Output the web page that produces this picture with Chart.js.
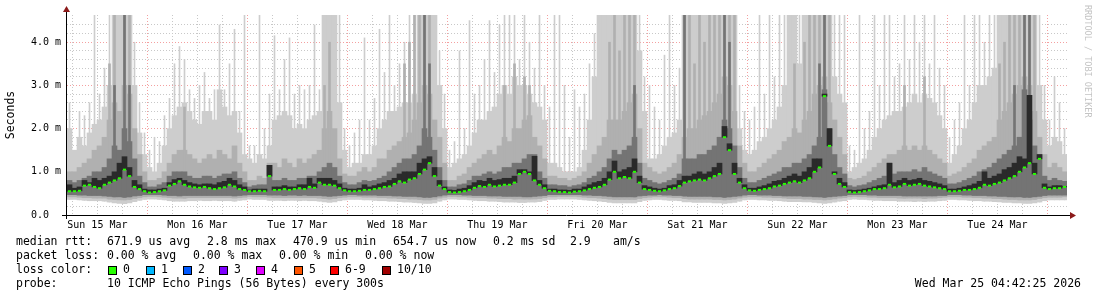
<!DOCTYPE html>
<html>
<head>
<meta charset="utf-8">
<script src="https://cdn.jsdelivr.net/npm/chart.js@4.4.1/dist/chart.umd.min.js"></script>
<style>
  html, body { margin: 0; padding: 0; background: #fff; }
  canvas { display: block; }
</style>
</head>
<body>
<canvas id="chart" width="1097" height="297"></canvas>
<script>
// 200 columns of 72 min = 10 days (Mar 15 04:42 -> Mar 25 04:42), values in ms
const binHours = 1.2;
const firstGridHour = 1.293;   // Mar 15 06:00
const dayLabels = ['Sun 15 Mar', 'Mon 16 Mar', 'Tue 17 Mar', 'Wed 18 Mar', 'Thu 19 Mar',
                   'Fri 20 Mar', 'Sat 21 Mar', 'Sun 22 Mar', 'Mon 23 Mar', 'Tue 24 Mar'];
const yTicks = [0, 1, 2, 3, 4];

// median rtt
const median = [
  0.55,0.55,0.56,0.68,0.7,0.65,0.62,0.7,0.75,0.8,0.85,1.05,0.9,0.65,0.6,0.55,
  0.52,0.53,0.55,0.57,0.68,0.72,0.78,0.7,0.66,0.64,0.63,0.65,0.62,0.6,0.62,0.64,0.7,0.66,0.6,0.58,
  0.55,0.55,0.56,0.55,0.9,0.58,0.58,0.6,0.58,0.6,0.62,0.6,0.65,0.63,0.75,0.7,0.7,0.68,0.62,0.57,
  0.55,0.55,0.56,0.58,0.58,0.6,0.62,0.65,0.66,0.72,0.78,0.75,0.82,0.85,0.95,1.05,1.2,0.9,0.68,0.6,
  0.53,0.52,0.53,0.55,0.58,0.63,0.67,0.65,0.7,0.66,0.68,0.7,0.7,0.75,0.95,1.0,0.95,0.8,0.7,0.62,
  0.56,0.55,0.53,0.53,0.52,0.54,0.55,0.57,0.6,0.63,0.65,0.7,0.82,1.0,0.85,0.88,0.85,1.0,0.75,0.6,
  0.58,0.56,0.55,0.57,0.6,0.62,0.67,0.75,0.78,0.8,0.82,0.8,0.85,0.9,0.95,1.8,1.5,0.95,0.75,0.62,
  0.57,0.56,0.58,0.6,0.62,0.66,0.68,0.72,0.75,0.78,0.75,0.8,0.85,1.0,1.1,2.75,1.6,0.95,0.72,0.65,
  0.53,0.52,0.53,0.55,0.57,0.6,0.6,0.62,0.7,0.64,0.66,0.72,0.68,0.7,0.72,0.68,0.66,0.64,0.62,0.6,
  0.55,0.55,0.56,0.58,0.58,0.6,0.63,0.7,0.68,0.72,0.75,0.8,0.85,0.9,1.0,1.1,1.2,0.95,1.3,0.63,0.6,0.62,0.62,0.65
];

// light smoke (outer pings): body top and thin spikes
const smokeTop = [
  2.0,1.5,1.8,1.6,1.9,2.1,2.2,2.5,3.0,4.63,4.63,4.63,4.63,3.0,1.9,1.4,
  1.1,1.0,1.2,1.6,2.0,2.3,2.5,2.6,2.4,2.2,2.1,2.4,2.4,2.2,2.9,2.5,2.3,2.4,1.9,1.4,
  1.3,1.2,1.4,1.3,1.6,2.2,2.3,2.4,2.3,2.0,2.1,2.0,2.2,2.3,2.4,4.63,4.63,4.63,2.6,1.5,
  1.1,1.2,1.2,1.4,1.4,1.6,2.0,2.2,2.4,2.4,2.5,2.6,2.6,2.8,4.63,4.63,4.63,4.63,3.0,2.0,
  1.1,1.2,1.3,1.4,1.6,1.9,2.2,2.2,2.4,2.5,2.8,3.0,2.8,3.2,3.0,3.0,2.8,2.6,2.5,2.2,
  1.2,1.2,1.1,1.0,1.0,1.0,1.1,1.5,2.2,3.2,4.63,4.63,4.63,4.63,4.63,4.63,4.63,4.63,3.8,2.4,
  1.3,1.3,1.4,1.6,1.8,1.9,2.2,4.63,4.63,4.63,4.63,4.63,4.63,4.63,4.63,4.63,4.63,4.63,2.0,1.5,
  1.4,1.5,1.7,1.8,2.0,2.2,2.5,3.0,4.63,4.63,3.5,4.63,4.63,4.63,4.63,4.63,4.63,3.2,2.8,2.6,
  1.0,1.1,1.2,1.3,1.5,1.8,2.0,2.2,2.3,2.4,2.4,2.5,2.6,2.8,2.6,2.8,2.7,2.6,2.3,2.0,
  1.2,1.4,1.6,2.0,2.2,2.6,3.0,3.0,3.2,3.4,4.63,4.63,4.63,4.63,4.63,4.63,4.63,4.63,3.0,2.2,1.6,1.8,1.7,1.4
];
const smokeSpike = [
  2.6,null,2.4,2.3,2.6,4.63,2.8,3.4,4.63,null,null,null,null,4.0,2.6,1.9,
  1.5,1.8,1.7,2.3,2.7,3.5,3.9,3.6,2.9,2.7,3.0,3.3,2.7,2.9,4.4,2.9,3.5,4.3,2.4,4.63,
  1.6,1.6,4.63,2.0,2.8,4.15,2.9,3.6,4.1,2.8,3.0,2.9,3.0,4.4,2.9,null,null,null,4.63,2.0,
  1.6,1.9,2.2,4.1,2.2,2.7,4.3,3.3,4.63,3.0,3.5,4.0,4.63,4.63,null,null,null,null,3.8,2.8,
  1.5,1.7,3.8,2.0,4.5,2.8,3.0,3.6,4.5,3.3,4.4,4.63,4.63,4.63,3.6,4.63,4.0,3.4,4.63,3.0,
  2.5,4.63,4.63,3.0,1.8,2.9,2.5,2.8,3.5,4.2,null,null,null,null,null,null,null,null,4.63,3.2,
  3.0,2.5,2.2,3.7,4.63,3.0,3.4,null,null,null,null,null,null,null,null,null,null,null,3.0,2.4,
  2.2,2.5,4.63,2.8,4.63,3.2,4.63,4.63,null,null,4.63,null,null,null,null,null,null,4.63,4.63,4.63,
  1.6,1.5,4.63,2.0,2.4,4.63,3.0,4.63,4.63,3.2,3.5,4.63,3.6,4.63,4.0,4.63,3.5,4.63,3.4,3.0,
  1.8,2.2,2.6,4.63,3.0,4.63,4.63,4.0,4.63,4.63,null,null,null,null,null,null,null,null,4.63,3.0,2.2,3.2,2.6,2.0
];
const smokeLow = [
  0.36,0.36,0.35,0.34,0.33,0.33,0.33,0.32,0.3,0.28,0.27,0.26,0.28,0.31,0.34,0.36,
  0.37,0.37,0.36,0.35,0.33,0.32,0.32,0.32,0.33,0.33,0.34,0.33,0.33,0.34,0.33,0.33,0.33,0.32,0.34,0.35,
  0.37,0.36,0.36,0.36,0.34,0.34,0.34,0.33,0.34,0.34,0.33,0.34,0.33,0.33,0.32,0.3,0.29,0.3,0.33,0.35,
  0.36,0.36,0.36,0.35,0.35,0.34,0.33,0.33,0.32,0.32,0.31,0.3,0.3,0.29,0.28,0.27,0.27,0.28,0.32,0.35,
  0.37,0.37,0.36,0.36,0.35,0.34,0.33,0.33,0.32,0.32,0.31,0.3,0.3,0.3,0.29,0.29,0.3,0.3,0.31,0.34,
  0.36,0.36,0.37,0.37,0.37,0.37,0.36,0.35,0.34,0.33,0.32,0.31,0.29,0.28,0.28,0.28,0.28,0.28,0.31,0.34,
  0.35,0.36,0.36,0.35,0.34,0.34,0.33,0.3,0.3,0.29,0.29,0.29,0.29,0.28,0.28,0.27,0.28,0.29,0.32,0.35,
  0.36,0.36,0.35,0.35,0.34,0.34,0.33,0.32,0.31,0.31,0.31,0.3,0.3,0.29,0.28,0.27,0.28,0.3,0.32,0.33,
  0.36,0.37,0.36,0.36,0.35,0.34,0.34,0.33,0.33,0.33,0.32,0.32,0.32,0.31,0.32,0.31,0.32,0.32,0.33,0.34,
  0.36,0.36,0.35,0.35,0.34,0.33,0.33,0.32,0.32,0.31,0.3,0.29,0.29,0.28,0.28,0.27,0.27,0.28,0.3,0.33,0.35,0.35,0.35,0.35
];

// mid grey smoke
const midTop = [
  1.0,1.0,1.1,1.2,1.3,1.5,1.6,1.8,2.2,2.6,2.4,3.0,2.8,2.0,1.4,1.0,
  0.8,0.8,0.85,1.0,1.2,1.4,1.5,1.5,1.4,1.3,1.2,1.3,1.4,1.3,1.5,1.4,1.3,1.6,1.2,1.0,
  0.8,0.8,0.9,0.85,1.2,1.2,1.1,1.3,1.2,1.1,1.3,1.2,1.3,1.4,1.5,2.0,2.4,2.0,1.3,0.95,
  0.9,0.9,1.0,1.1,1.0,1.1,1.3,1.3,1.5,1.6,1.7,1.8,1.9,2.2,2.6,3.0,2.8,2.2,1.8,1.2,
  0.8,0.8,0.9,0.95,1.1,1.2,1.3,1.4,1.5,1.4,1.6,1.8,1.7,2.0,2.0,2.2,2.3,1.8,1.6,1.3,
  0.9,0.9,0.85,0.85,0.8,0.85,0.9,1.0,1.2,1.4,1.6,1.8,2.2,2.2,2.2,2.4,2.6,2.8,2.0,1.2,
  1.1,1.0,0.95,1.0,1.1,1.2,1.4,1.8,2.0,2.0,2.2,2.3,2.4,2.6,2.8,3.2,3.0,2.4,1.6,1.2,
  1.0,1.0,1.1,1.2,1.3,1.4,1.5,1.7,1.8,2.0,1.9,2.2,2.4,2.8,3.0,3.2,2.6,2.2,1.8,1.4,
  0.85,0.82,0.85,0.9,1.0,1.1,1.2,1.3,1.4,1.4,1.5,1.6,1.5,1.6,1.5,1.6,1.5,1.4,1.3,1.2,
  0.9,0.95,1.0,1.1,1.2,1.3,1.5,1.6,1.7,1.8,2.2,2.4,2.6,2.8,3.0,3.2,3.0,2.4,1.8,1.4,1.1,1.2,1.1,1.0
];
const midLow = [
  0.42,0.42,0.41,0.4,0.4,0.39,0.39,0.39,0.37,0.36,0.35,0.35,0.36,0.38,0.4,0.42,
  0.43,0.43,0.42,0.41,0.4,0.39,0.39,0.39,0.4,0.4,0.4,0.4,0.4,0.4,0.4,0.4,0.4,0.39,0.4,0.41,
  0.43,0.42,0.42,0.42,0.41,0.4,0.4,0.4,0.4,0.4,0.4,0.4,0.4,0.4,0.39,0.38,0.37,0.38,0.4,0.41,
  0.42,0.42,0.42,0.41,0.41,0.41,0.4,0.4,0.39,0.39,0.38,0.38,0.37,0.37,0.36,0.35,0.35,0.36,0.39,0.41,
  0.43,0.43,0.42,0.42,0.41,0.4,0.4,0.4,0.39,0.39,0.38,0.38,0.38,0.37,0.37,0.37,0.37,0.37,0.38,0.4,
  0.42,0.42,0.43,0.43,0.43,0.43,0.42,0.41,0.4,0.4,0.39,0.38,0.37,0.36,0.36,0.36,0.36,0.36,0.38,0.4,
  0.41,0.42,0.42,0.42,0.41,0.4,0.4,0.38,0.37,0.37,0.37,0.37,0.37,0.36,0.36,0.35,0.36,0.37,0.39,0.41,
  0.42,0.42,0.42,0.41,0.41,0.4,0.4,0.39,0.38,0.38,0.38,0.37,0.37,0.36,0.36,0.35,0.36,0.37,0.39,0.4,
  0.42,0.43,0.42,0.42,0.41,0.41,0.4,0.4,0.4,0.4,0.39,0.39,0.39,0.39,0.39,0.38,0.39,0.39,0.4,0.41,
  0.42,0.42,0.42,0.41,0.41,0.4,0.4,0.39,0.39,0.38,0.38,0.37,0.36,0.36,0.35,0.35,0.35,0.36,0.38,0.4,0.41,0.41,0.41,0.42
];

// dark grey smoke
const darkTop = [
  0.8,0.75,0.8,0.85,0.9,1.0,1.0,1.1,1.3,1.6,1.5,2.0,1.7,1.3,0.9,0.75,
  0.65,0.65,0.7,0.75,0.9,1.0,1.0,1.0,0.9,0.85,0.85,0.9,0.9,0.85,0.9,0.95,0.95,1.0,0.85,0.75,
  0.65,0.68,0.7,0.7,1.15,0.8,0.8,0.85,0.8,0.8,0.85,0.85,0.9,0.9,1.0,1.1,1.2,1.1,0.9,0.75,
  0.7,0.7,0.75,0.8,0.78,0.8,0.85,0.9,1.0,1.1,1.2,1.3,1.3,1.4,1.6,2.0,1.8,1.5,1.1,0.8,
  0.65,0.65,0.7,0.72,0.8,0.9,0.9,0.95,1.0,0.95,1.0,1.1,1.1,1.2,1.2,1.3,1.4,1.4,1.0,0.85,
  0.7,0.7,0.68,0.68,0.65,0.68,0.7,0.75,0.85,0.9,1.0,1.1,1.3,1.5,1.4,1.5,1.6,1.8,1.2,0.85,
  0.8,0.75,0.72,0.75,0.8,0.85,0.95,1.3,1.3,1.3,1.4,1.4,1.5,1.6,1.8,2.2,2.0,1.6,1.1,0.85,
  0.75,0.75,0.8,0.85,0.9,0.95,1.0,1.1,1.1,1.2,1.2,1.3,1.4,1.6,1.8,2.9,2.0,1.4,1.1,0.95,
  0.68,0.65,0.68,0.7,0.75,0.8,0.85,0.9,1.2,0.95,1.0,1.0,1.0,1.05,1.0,1.1,1.0,0.95,0.9,0.85,
  0.72,0.72,0.75,0.8,0.85,0.9,1.0,1.05,1.1,1.2,1.3,1.4,1.5,1.6,1.8,2.9,2.2,1.6,1.4,0.9,0.8,0.85,0.8,0.78
];
const darkLow = [
  0.47,0.47,0.46,0.46,0.45,0.45,0.45,0.44,0.43,0.42,0.42,0.41,0.42,0.44,0.45,0.47,
  0.47,0.47,0.47,0.46,0.45,0.45,0.44,0.45,0.45,0.45,0.45,0.45,0.45,0.45,0.45,0.45,0.45,0.44,0.45,0.46,
  0.47,0.47,0.47,0.47,0.46,0.46,0.46,0.45,0.46,0.46,0.45,0.46,0.45,0.45,0.45,0.44,0.43,0.44,0.45,0.46,
  0.47,0.47,0.46,0.46,0.46,0.46,0.45,0.45,0.45,0.44,0.44,0.43,0.43,0.43,0.42,0.41,0.41,0.42,0.44,0.46,
  0.47,0.47,0.47,0.46,0.46,0.45,0.45,0.45,0.44,0.44,0.44,0.43,0.43,0.43,0.43,0.42,0.42,0.43,0.44,0.45,
  0.47,0.47,0.47,0.47,0.47,0.47,0.47,0.46,0.46,0.45,0.45,0.44,0.43,0.42,0.42,0.42,0.42,0.42,0.44,0.45,
  0.46,0.46,0.47,0.46,0.46,0.45,0.45,0.44,0.43,0.43,0.43,0.43,0.43,0.42,0.42,0.41,0.42,0.43,0.44,0.46,
  0.47,0.47,0.46,0.46,0.46,0.45,0.45,0.44,0.44,0.44,0.44,0.43,0.43,0.42,0.42,0.41,0.42,0.43,0.44,0.45,
  0.47,0.47,0.47,0.47,0.46,0.46,0.45,0.45,0.45,0.45,0.45,0.44,0.44,0.44,0.44,0.44,0.44,0.44,0.45,0.45,
  0.47,0.47,0.47,0.46,0.46,0.45,0.45,0.45,0.44,0.44,0.43,0.43,0.42,0.42,0.42,0.41,0.41,0.42,0.43,0.45,0.46,0.46,0.46,0.46
];

// near-black core above the median
const coreTop = [
  0.7,0.62,0.65,0.8,0.75,0.85,0.8,0.85,0.9,1.0,1.2,1.35,1.1,0.8,0.7,0.6,
  0.58,0.58,0.6,0.62,0.75,0.82,0.85,0.8,0.75,0.72,0.7,0.72,0.72,0.7,0.75,0.78,0.85,0.8,0.7,0.65,
  0.58,0.6,0.6,0.6,1.15,0.65,0.65,0.68,0.65,0.65,0.7,0.7,0.85,0.72,0.85,0.85,0.85,0.8,0.72,0.62,
  0.6,0.6,0.62,0.7,0.65,0.68,0.72,0.75,0.8,0.85,0.95,1.0,1.0,1.0,1.2,1.3,1.35,1.1,0.8,0.65,
  0.58,0.57,0.6,0.62,0.68,0.75,0.8,0.78,0.85,0.8,0.82,0.85,0.85,0.9,1.05,1.05,1.0,1.36,0.8,0.7,
  0.6,0.6,0.58,0.58,0.57,0.6,0.6,0.65,0.7,0.75,0.78,0.85,1.0,1.25,1.0,1.05,1.1,1.3,0.9,0.68,
  0.65,0.62,0.6,0.62,0.68,0.7,0.8,0.9,0.9,0.95,1.0,0.95,1.0,1.1,1.2,2.05,1.65,1.2,0.85,0.7,
  0.62,0.62,0.65,0.68,0.72,0.78,0.8,0.85,0.9,0.95,0.9,1.0,1.1,1.3,1.3,2.8,2.0,1.0,0.85,0.75,
  0.58,0.57,0.58,0.6,0.62,0.65,0.68,0.7,1.2,0.75,0.8,0.85,0.8,0.82,0.85,0.8,0.78,0.75,0.72,0.68,
  0.6,0.6,0.62,0.65,0.68,0.72,0.78,1.0,0.85,0.9,0.95,1.05,1.1,1.2,1.35,1.3,2.77,1.2,1.4,0.72,0.65,0.68,0.68,0.66
];

// thin grey spikes [column, top]
const midSpikes = [[8, 3.5], [9, 4.63], [11, 4.63], [12, 4.63], [23, 2.5], [51, 3.0], [52, 4.0],
  [67, 3.5], [68, 4.0], [69, 4.63], [70, 4.63], [71, 4.63], [72, 4.63], [87, 3.0], [89, 3.5], [91, 3.2],
  [92, 3.0], [108, 4.0], [109, 4.63], [110, 3.8], [111, 4.63], [112, 4.63], [113, 4.63], [123, 4.63],
  [124, 4.63], [125, 3.5], [126, 4.63], [127, 4.0], [128, 4.63], [129, 4.63], [130, 4.63], [131, 4.63],
  [132, 4.63], [133, 4.63], [145, 3.5], [147, 4.0], [148, 4.63], [149, 4.63], [150, 4.63], [151, 4.63],
  [152, 4.63], [167, 3.0], [171, 3.2], [186, 3.5], [187, 4.0], [188, 4.63], [189, 4.63], [190, 4.63],
  [191, 4.63], [192, 4.63], [193, 4.63]];
const darkSpikes = [[9, 3.0], [11, 4.63], [12, 3.0], [71, 4.63], [72, 3.5], [113, 3.0], [123, 4.63],
  [131, 4.63], [132, 4.0], [150, 3.5], [151, 4.63], [189, 3.0], [191, 4.63], [192, 4.63]];

// legend texts
const legendRtt = [[16, 'median rtt:'], [107, '671.9 us avg'], [207, '2.8 ms max'], [293, '470.9 us min'],
                   [393, '654.7 us now'], [493, '0.2 ms sd'], [570, '2.9'], [613, 'am/s']];
const legendLoss = [[16, 'packet loss:'], [107, '0.00 % avg'], [193, '0.00 % max'], [279, '0.00 % min'], [365, '0.00 % now']];
const lossLabels = ['0', '1', '2', '3', '4', '5', '6-9', '10/10'];
const lossColors = ['#26ff00', '#00b8ff', '#0059ff', '#7e00ff', '#e000ff', '#ff5500', '#ff0000', '#a10000'];
const lossBoxX = [108, 146, 183, 219, 256, 294, 330, 382];
const probeText = '10 ICMP Echo Pings (56 Bytes) every 300s';
const stampText = 'Wed Mar 25 04:42:25 2026';

const MONO = '"DejaVu Sans Mono", "Liberation Mono", monospace';

const xs = median.map((_, i) => (i + 0.5) * binHours);
const band = (lo, hi) => hi.map((h, i) => h == null ? null : { x: xs[i], y: [lo[i], h] }).filter(Boolean);
const spikes = (lo, list) => list.map(([i, h]) => ({ x: xs[i], y: [lo[i], h] }));

const gridHours = [];
for (let h = firstGridHour; h <= 240; h += 6) gridHours.push(h);

const barBase = { type: 'bar', grouped: false, barPercentage: 1, categoryPercentage: 1, borderWidth: 0 };
const RED = '#f4a0a0', GREY = '#c8c8c8';

const rrdDecor = {
  id: 'rrdDecor',
  afterDraw(chart) {
    const ctx = chart.ctx;
    const a = chart.chartArea;
    ctx.save();
    // axes
    ctx.strokeStyle = '#000';
    ctx.lineWidth = 1;
    ctx.beginPath();
    ctx.moveTo(a.left - 5, a.bottom + 0.5);
    ctx.lineTo(a.right + 4, a.bottom + 0.5);
    ctx.moveTo(a.left - 0.5, a.bottom + 4);
    ctx.lineTo(a.left - 0.5, a.top - 4);
    ctx.stroke();
    ctx.fillStyle = '#8b1a1a';
    ctx.beginPath();
    ctx.moveTo(a.right + 9, a.bottom + 0.5);
    ctx.lineTo(a.right + 3, a.bottom - 3);
    ctx.lineTo(a.right + 3, a.bottom + 4);
    ctx.fill();
    ctx.beginPath();
    ctx.moveTo(a.left - 0.5, a.top - 9);
    ctx.lineTo(a.left - 4, a.top - 3);
    ctx.lineTo(a.left + 3, a.top - 3);
    ctx.fill();

    // watermark
    ctx.save();
    ctx.translate(1087, 5);
    ctx.rotate(Math.PI / 2);
    ctx.font = '8.5px ' + MONO;
    ctx.fillStyle = '#c4c4c4';
    ctx.textBaseline = 'middle';
    ctx.fillText('RRDTOOL / TOBI OETIKER', 0, 0);
    ctx.restore();

    // legend
    ctx.font = '11.5px ' + MONO;
    ctx.fillStyle = '#000';
    ctx.textBaseline = 'middle';
    const rows = [242, 256, 270, 284];
    legendRtt.forEach(([x, t]) => ctx.fillText(t, x, rows[0]));
    legendLoss.forEach(([x, t]) => ctx.fillText(t, x, rows[1]));
    ctx.fillText('loss color:', 16, rows[2]);
    lossLabels.forEach((t, i) => {
      const bx = lossBoxX[i];
      ctx.fillStyle = lossColors[i];
      ctx.fillRect(bx, rows[2] - 4, 9, 9);
      ctx.strokeStyle = '#000';
      ctx.strokeRect(bx + 0.5, rows[2] - 3.5, 8, 8);
      ctx.fillStyle = '#000';
      ctx.fillText(t, bx + 15, rows[2]);
    });
    ctx.fillText('probe:', 16, rows[3]);
    ctx.fillText(probeText, 107, rows[3]);
    ctx.textAlign = 'right';
    ctx.fillText(stampText, 1081, rows[3]);
    ctx.restore();
  }
};

new Chart(document.getElementById('chart'), {
  data: {
    datasets: [
      { type: 'line', data: median.map((v, i) => ({ x: xs[i], y: v })), showLine: false,
        pointStyle: 'line', pointRadius: 1.6, pointBorderWidth: 2, pointBorderColor: '#26ff00',
        pointBackgroundColor: '#26ff00', order: 0 },
      { ...barBase, data: band(median, coreTop), backgroundColor: '#2a2a2a', order: 1 },
      { ...barBase, data: spikes(darkLow, darkSpikes), backgroundColor: '#747474', barThickness: 2, order: 2 },
      { ...barBase, data: band(darkLow, darkTop), backgroundColor: '#747474', order: 3 },
      { ...barBase, data: spikes(midLow, midSpikes), backgroundColor: '#b0b0b0', barThickness: 2, order: 4 },
      { ...barBase, data: band(midLow, midTop), backgroundColor: '#b0b0b0', order: 5 },
      { ...barBase, data: band(smokeLow, smokeTop), backgroundColor: '#cdcdcd', order: 6 },
      { ...barBase, data: band(smokeLow, smokeSpike), backgroundColor: '#cdcdcd', barThickness: 1, order: 7 }
    ]
  },
  options: {
    responsive: false,
    animation: false,
    devicePixelRatio: 1,
    events: [],
    layout: { padding: { left: 0, right: 30, top: 15, bottom: 62 } },
    plugins: { legend: { display: false }, tooltip: { enabled: false } },
    scales: {
      x: {
        type: 'linear', min: 0, max: 240, z: 1, offset: false,
        afterFit: s => { s.height = 20; },
        afterBuildTicks: s => { s.ticks = gridHours.map(v => ({ value: v })); },
        border: { display: false, dash: [1, 2] },
        grid: {
          drawTicks: false, offset: false,
          color: c => (c.index % 4 === 3 ? RED : GREY)
        },
        ticks: {
          autoSkip: false, maxRotation: 0, padding: 4, color: '#000',
          font: { family: MONO, size: 10 },
          callback: (v, i) => (i % 4 === 1 ? dayLabels[(i - 1) / 4] : '')
        }
      },
      y: {
        min: 0, max: 4.63, z: 1,
        afterFit: s => { s.width = 67; },
        border: { display: false, dash: [1, 2] },
        grid: {
          drawTicks: false,
          color: c => {
            const v = c.tick.value;
            if (Math.abs(v * 5 - Math.round(v * 5)) > 1e-6) return 'rgba(0,0,0,0)';
            return yTicks.some(t => t > 0 && Math.abs(t - v) < 1e-6) ? RED : GREY;
          }
        },
        ticks: {
          stepSize: 0.2, padding: 6, color: '#000', autoSkip: false,
          font: { family: MONO, size: 10 },
          callback: v => {
            const t = yTicks.find(k => Math.abs(k - v) < 1e-6);
            if (t === undefined) return '';
            return t === 0 ? '0.0  ' : t.toFixed(1) + ' m';
          }
        },
        title: { display: true, text: 'Seconds', color: '#000', font: { family: MONO, size: 11.5 } }
      }
    }
  },
  plugins: [rrdDecor]
});
</script>
</body>
</html>
